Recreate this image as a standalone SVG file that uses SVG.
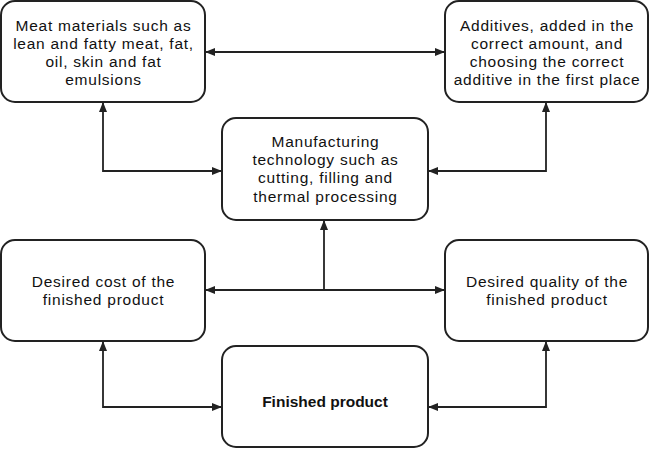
<svg xmlns="http://www.w3.org/2000/svg" width="650" height="449" viewBox="0 0 650 449">
  <style>
    .box { fill: #ffffff; stroke: #222222; stroke-width: 2; }
    .t { font-family: "Liberation Sans", Arial, sans-serif; font-size: 15.5px; letter-spacing: 0.75px; fill: #111111; text-anchor: middle; }
    .tb { font-family: "Liberation Sans", Arial, sans-serif; font-size: 15.5px; font-weight: bold; fill: #111111; text-anchor: middle; }
    .c { fill: none; stroke: #222222; stroke-width: 1.8; }
    .a1 { marker-end: url(#ah); }
    .a2 { marker-start: url(#ah); marker-end: url(#ah); }
  </style>
  <defs>
    <marker id="ah" markerUnits="userSpaceOnUse" markerWidth="11" markerHeight="9" refX="10" refY="4" orient="auto-start-reverse">
      <path d="M0,0 L10,4 L0,8 z" fill="#222222"/>
    </marker>
  </defs>
  <rect width="650" height="449" fill="#ffffff"/>

  <g id="connectors">
    <line class="c a2" x1="205" y1="52" x2="445" y2="52"/>
    <polyline class="c a2" points="103,102 103,171 222,171"/>
    <polyline class="c a2" points="546,102 546,171 428,171"/>
    <line class="c a2" x1="205" y1="290" x2="445" y2="290"/>
    <line class="c a1" x1="324" y1="290" x2="324" y2="220"/>
    <polyline class="c a2" points="103,341 103,407 222,407"/>
    <polyline class="c a2" points="546,341 546,407 428,407"/>
  </g>

  <g id="meat">
    <rect class="box" x="1" y="1" width="204" height="101" rx="14"/>
    <text class="t" x="103.5" y="30.5">Meat materials such as</text>
    <text class="t" x="103.5" y="48.7">lean and fatty meat, fat,</text>
    <text class="t" x="103.5" y="66.9">oil, skin and fat</text>
    <text class="t" x="103.5" y="85.1">emulsions</text>
  </g>

  <g id="additives">
    <rect class="box" x="445" y="1" width="203" height="101" rx="14"/>
    <text class="t" x="547" y="30.5">Additives, added in the</text>
    <text class="t" x="547" y="48.7">correct amount, and</text>
    <text class="t" x="547" y="66.9">choosing the correct</text>
    <text class="t" x="547" y="85.1">additive in the first place</text>
  </g>

  <g id="manufacturing">
    <rect class="box" x="222" y="118" width="206" height="102" rx="14"/>
    <text class="t" x="325.5" y="146.7">Manufacturing</text>
    <text class="t" x="325.5" y="165">technology such as</text>
    <text class="t" x="325.5" y="183.3">cutting, filling and</text>
    <text class="t" x="325.5" y="201.6">thermal processing</text>
  </g>

  <g id="cost">
    <rect class="box" x="1" y="240" width="204" height="101" rx="14"/>
    <text class="t" x="103.5" y="286.7">Desired cost of the</text>
    <text class="t" x="103.5" y="305">finished product</text>
  </g>

  <g id="quality">
    <rect class="box" x="445" y="240" width="203" height="101" rx="14"/>
    <text class="t" x="547" y="286.7">Desired quality of the</text>
    <text class="t" x="547" y="305">finished product</text>
  </g>

  <g id="finished">
    <rect class="box" x="222" y="346" width="206" height="101" rx="14"/>
    <text class="tb" x="325" y="406.7">Finished product</text>
  </g>
</svg>
